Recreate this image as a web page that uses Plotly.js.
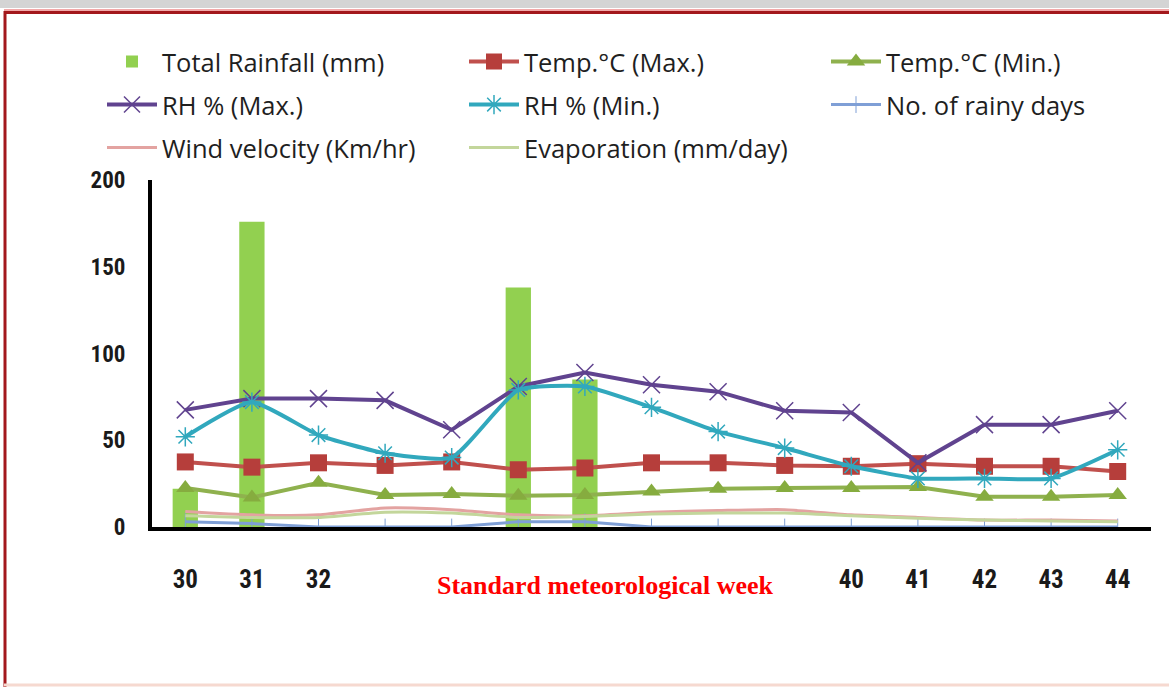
<!DOCTYPE html>
<html>
<head>
<meta charset="utf-8">
<script src="https://cdn.plot.ly/plotly-3.0.1.min.js"></script>
<style>html,body{margin:0;padding:0;background:#fff;}#chart{width:1169px;height:687px;}</style>
</head>
<body>
<div id="chart"></div>
<script>
// ---- data ----
var weeks = ['30','31','32','33','34','35','36','37','38','39','40','41','42','43','44'];
var weekLabels = ['30','31','32','','','','','','','','40','41','42','43','44'];
var rainfall = [22, 176, 0, 0, 0, 138, 85, 0, 0, 0, 0, 0, 0, 0, 0];
var tempMax = [37.5, 34.5, 37, 35.5, 37.5, 33, 34, 37, 37, 35.5, 35, 36.5, 35, 35, 32];
var tempMin = [22.5, 17, 25.5, 18.5, 19, 18, 18.5, 20.5, 22, 22.5, 22.5, 23, 17.5, 17.5, 18.5];
var rhMax = [67.5, 74, 74, 73, 56, 81, 89, 82, 78, 67, 66, 37, 59, 59, 67];
var rhMin = [52, 72, 53, 42.5, 40, 79, 81, 69, 55, 45.5, 35, 28, 28, 28, 44.5];
var rainyDays = [3, 2, 0, 0, 0, 3, 3, 0, 0, 0, 0, 0, 0, 0, 0];
var wind = [9, 7, 7, 11, 10, 7, 6.5, 8.5, 9.5, 10, 7, 5.5, 4, 4, 3.5];
var evap = [6.5, 5.5, 5.5, 8.5, 8, 5.5, 6, 7.5, 8, 8, 6.5, 5, 4, 3.5, 3];
var seriesNames = ['Total Rainfall (mm)', 'Temp.°C (Max.)', 'Temp.°C (Min.)', 'RH % (Max.)', 'RH % (Min.)', 'No. of rainy days', 'Wind velocity (Km/hr)', 'Evaporation (mm/day)'];
var axisTitle = 'Standard meteorological week';

// ---- geometry helpers (page pixels -> paper) ----
var W = 1169, H = 687, L = 152, R = 18, T = 180, B = 160;
var PW = W - L - R, PH = H - T - B;
function px(x){ return (x - L) / PW; }
function py(y){ return (H - B - y) / PH; }

var TICKFONT = '"Liberation Sans Narrow", "Roboto Condensed", Lato, sans-serif';
var LEGFONT = '"Open Sans", Lato, sans-serif';

var traces = [
  {type:'bar', x:weeks, y:rainfall, name:seriesNames[0], marker:{color:'#92D050'}, width:0.38, legend:'legend'},
  {type:'scatter', mode:'lines+markers', x:weeks, y:tempMax, name:seriesNames[1], line:{color:'#C0504D', width:4}, marker:{symbol:'square', size:17, color:'#B63E3B'}, legend:'legend'},
  {type:'scatter', mode:'lines+markers', x:weeks, y:tempMin, name:seriesNames[2], line:{color:'#8FB14E', width:4}, marker:{symbol:'triangle-up', size:16, color:'#86AC3F'}, legend:'legend', legendwidth:200},
  {type:'scatter', mode:'lines+markers', x:weeks, y:rhMax, name:seriesNames[3], line:{color:'#60438F', width:4}, marker:{symbol:'x-thin-open', size:17, line:{color:'#9C9CD2', width:1.5}}, legend:'legend2'},
  {type:'scatter', mode:'lines+markers', x:weeks, y:rhMin, name:seriesNames[4], line:{color:'#31A8BD', width:4, shape:'spline', smoothing:0.5}, marker:{symbol:'asterisk-open', size:16, line:{color:'#7EB6E3', width:1.5}}, legend:'legend2'},
  {type:'scatter', mode:'lines+markers', x:weeks, y:rainyDays, name:seriesNames[5], line:{color:'#7F9FD6', width:3}, marker:{symbol:'line-ns-open', size:12, line:{color:'#A3B8E0', width:1}}, legend:'legend2', legendwidth:210},
  {type:'scatter', mode:'lines', x:weeks, y:wind, name:seriesNames[6], line:{color:'#E3A3A1', width:3, shape:'spline', smoothing:0.6}, legend:'legend3'},
  {type:'scatter', mode:'lines', x:weeks, y:evap, name:seriesNames[7], line:{color:'#C3D69B', width:3, shape:'spline', smoothing:0.6}, legend:'legend3'}
];

var legBase = {orientation:'h', xanchor:'left', yanchor:'middle', x:px(102), bgcolor:'rgba(0,0,0,0)',
  font:{family:LEGFONT, size:25.5, color:'#1f1f1f', weight:500}, itemwidth:50, entrywidth:297, entrywidthmode:'pixels', traceorder:'normal'};
function leg(yPix){ var o = Object.assign({}, legBase); o.y = py(yPix); return o; }

var layout = {
  width:W, height:H,
  margin:{l:L, r:R, t:T, b:B, pad:0},
  paper_bgcolor:'#ffffff', plot_bgcolor:'#ffffff',
  showlegend:true,
  legend:leg(62), legend2:leg(105), legend3:leg(148),
  bargap:0.6,
  xaxis:{type:'category', range:[-0.5, 14.5], tickmode:'array', tickvals:weeks, ticktext:weekLabels,
    showline:true, linecolor:'#000', linewidth:4, ticks:'', showgrid:false, zeroline:false,
    tickfont:{family:TICKFONT, size:25, color:'#1a1a1a', weight:'bold'}, ticklabelstandoff:27, fixedrange:true},
  yaxis:{range:[0, 200], dtick:50, tick0:0, showline:true, linecolor:'#000', linewidth:4, ticks:'',
    showgrid:false, zeroline:false, tickfont:{family:TICKFONT, size:23, color:'#1a1a1a', weight:'bold'}, ticklabelstandoff:18, fixedrange:true},
  shapes:[
    {type:'rect', xref:'paper', yref:'paper', x0:px(0), x1:px(W), y0:py(0), y1:py(8), fillcolor:'#D4D4D4', line:{width:0}, layer:'below'},
    {type:'line', xref:'paper', yref:'paper', x0:px(4), x1:px(W), y0:py(10), y1:py(10), line:{color:'#F2A9A9', width:2}},
    {type:'line', xref:'paper', yref:'paper', x0:px(4), x1:px(W), y0:py(12.5), y1:py(12.5), line:{color:'#A3181C', width:3}},
    {type:'line', xref:'paper', yref:'paper', x0:px(5), x1:px(5), y0:py(11), y1:py(H), line:{color:'#A3181C', width:3}},
    {type:'line', xref:'paper', yref:'paper', x0:px(4), x1:px(W), y0:py(685), y1:py(685), line:{color:'#F6D9D0', width:3}}
  ],
  annotations:[
    {xref:'paper', yref:'paper', x:px(605), y:py(585), xanchor:'center', yanchor:'middle', showarrow:false,
     text:'<b>' + axisTitle + '</b>', font:{family:'"Liberation Serif", "Times New Roman", serif', size:26, color:'#FF0000'}}
  ]
};

Plotly.newPlot('chart', traces, layout, {staticPlot:true, displayModeBar:false});
</script>
</body>
</html>
